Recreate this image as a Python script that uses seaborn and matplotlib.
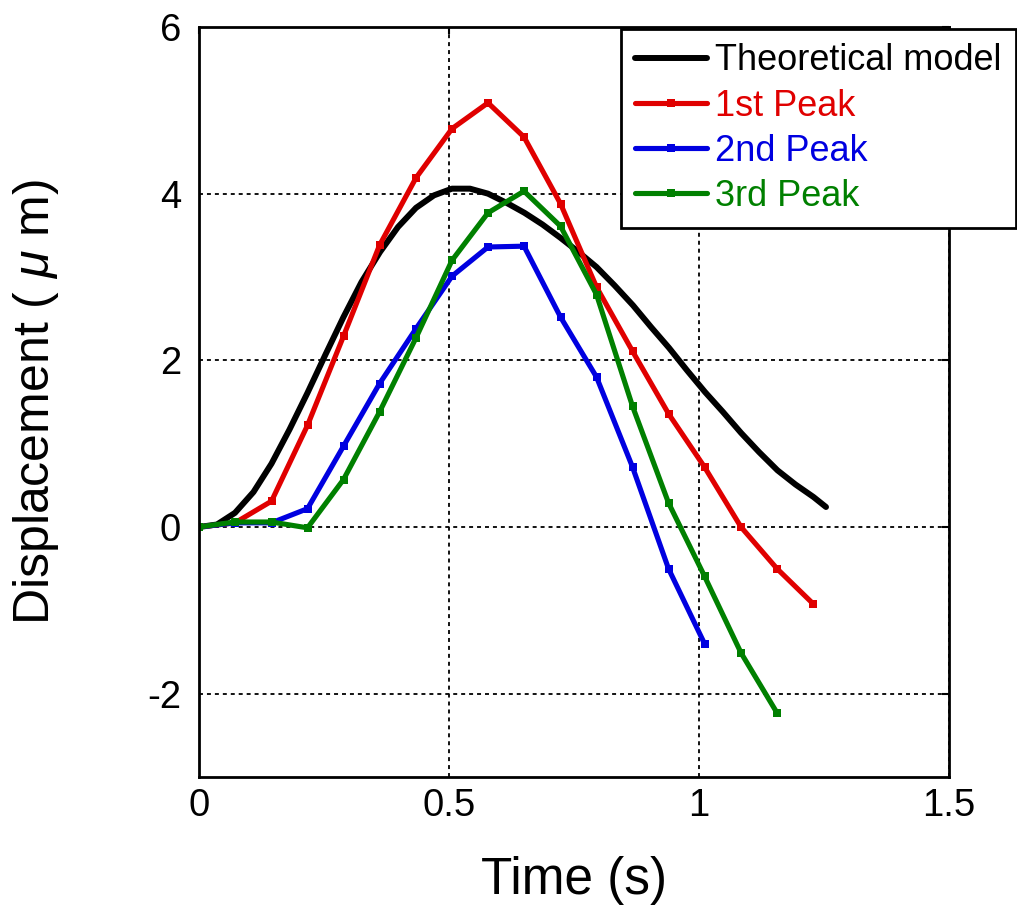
import matplotlib
matplotlib.use("Agg")
import matplotlib.pyplot as plt
import seaborn as sns
import pandas as pd

# Theoretical displacement curve
t_model = [0, 0.036, 0.072, 0.109, 0.145, 0.181, 0.217, 0.253, 0.289, 0.325,
           0.362, 0.398, 0.434, 0.470, 0.506, 0.542, 0.578, 0.615, 0.651, 0.687,
           0.723, 0.759, 0.795, 0.831, 0.868, 0.904, 0.940, 0.976, 1.012, 1.048,
           1.084, 1.120, 1.157, 1.193, 1.229, 1.254]
d_model = [0, 0.03, 0.17, 0.42, 0.76, 1.17, 1.61, 2.07, 2.52, 2.94,
           3.30, 3.60, 3.83, 3.98, 4.06, 4.06, 4.00, 3.89, 3.77, 3.63,
           3.47, 3.30, 3.12, 2.90, 2.66, 2.40, 2.15, 1.88, 1.62, 1.38,
           1.13, 0.90, 0.68, 0.51, 0.36, 0.24]

# Measured sample times
t_exp = [0, 0.072, 0.145, 0.217, 0.289, 0.361, 0.434, 0.506, 0.578, 0.650,
         0.723, 0.795, 0.867, 0.939, 1.011, 1.084, 1.156, 1.228]

peak1 = [0, 0.05, 0.31, 1.22, 2.29, 3.38, 4.19, 4.78, 5.09, 4.68,
         3.88, 2.88, 2.11, 1.36, 0.72, 0.0, -0.50, -0.92]
peak2 = [0, 0.05, 0.05, 0.22, 0.97, 1.72, 2.38, 3.01, 3.36, 3.37,
         2.52, 1.80, 0.72, -0.50, -1.40]
peak3 = [0, 0.06, 0.06, -0.01, 0.57, 1.38, 2.27, 3.20, 3.77, 4.03,
         3.61, 2.79, 1.45, 0.29, -0.59, -1.51, -2.23]

labels = ["Theoretical model", "1st Peak", "2nd Peak", "3rd Peak"]
colors = ["#000000", "#e00000", "#0000e0", "#008000"]

x_ticks = [0, 0.5, 1, 1.5]
x_tick_labels = ["0", "0.5", "1", "1.5"]
y_ticks = [-2, 0, 2, 4, 6]
y_tick_labels = ["-2", "0", "2", "4", "6"]

sns.set_style("white")
plt.rcParams["font.family"] = ["Liberation Sans", "DejaVu Sans"]
plt.rcParams["mathtext.fontset"] = "custom"
plt.rcParams["mathtext.rm"] = "Liberation Sans"
plt.rcParams["mathtext.it"] = "Liberation Sans:italic"

fig = plt.figure(figsize=(10.17, 9.15), dpi=100)
ax = fig.add_axes([199 / 1017, 1 - 777 / 915, 750 / 1017, 750 / 915])

model_df = pd.DataFrame({"t": t_model, "d": d_model})
sns.lineplot(data=model_df, x="t", y="d", ax=ax, color=colors[0],
             linewidth=4.3, label=labels[0], sort=False)

for vals, lab, col in zip([peak1, peak2, peak3], labels[1:], colors[1:]):
    df = pd.DataFrame({"t": t_exp[:len(vals)], "d": vals})
    sns.lineplot(data=df, x="t", y="d", ax=ax, color=col, linewidth=3.7,
                 marker="s", markersize=6, markeredgewidth=0,
                 label=lab, sort=False)

ax.set_xlim(0, 1.5)
ax.set_ylim(-3, 6)
ax.set_xticks(x_ticks)
ax.set_xticklabels(x_tick_labels)
ax.set_yticks(y_ticks)
ax.set_yticklabels(y_tick_labels)

ax.grid(True, color="black", linestyle=(0, (2.2, 2.2)), linewidth=1.3)
for s in ax.spines.values():
    s.set_color("black")
    s.set_linewidth(2)

ax.tick_params(axis="both", direction="in", length=5, width=1.5,
               colors="black", labelsize=27.5, top=True, right=True)
ax.tick_params(axis="x", pad=8)
ax.tick_params(axis="y", pad=13)

ax.set_xlabel("Time (s)", fontsize=37, color="black")
ax.set_ylabel(r"Displacement ( $\mu$ m)", fontsize=36, color="black")
ax.xaxis.set_label_coords(0.5, -0.105)
ax.yaxis.set_label_coords(-0.184, 0.5)

leg = ax.legend(loc="upper right", bbox_to_anchor=(1016 / 1017, 1 - 29 / 915),
                bbox_transform=fig.transFigure, fontsize=26, frameon=True,
                fancybox=False, framealpha=1, edgecolor="black",
                handlelength=2.0, handletextpad=0.22, labelspacing=0.28,
                borderpad=0.4, borderaxespad=0, numpoints=1)
leg.get_frame().set_linewidth(2)
for txt, col in zip(leg.get_texts(), colors):
    txt.set_color(col)

fig.savefig("out.png", dpi=100)
